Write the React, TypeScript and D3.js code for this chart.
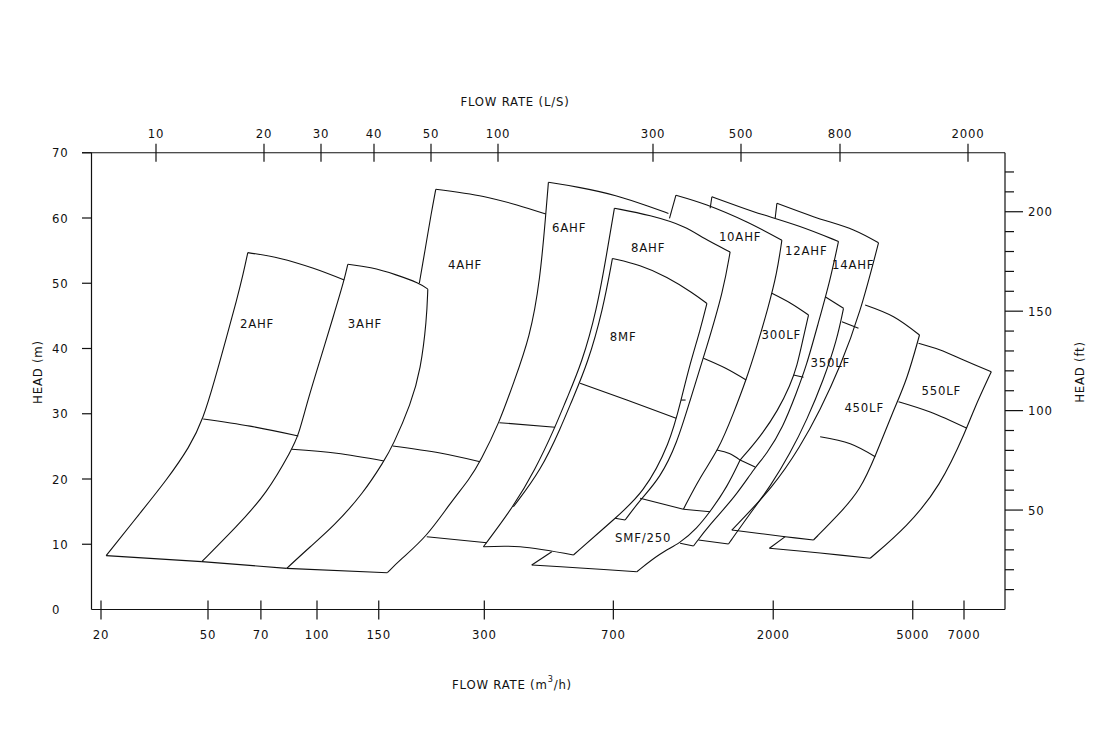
import React from 'react';
import * as d3 from 'd3';

type Pt = [number, number]; // [flow m3/h, head m]

// ---------- axes ----------
const bottomTicks = [20, 50, 70, 100, 150, 300, 700, 2000, 5000, 7000];
const topTicks = [10, 20, 30, 40, 50, 100, 300, 500, 800, 2000];
const leftTicks = [10, 20, 30, 40, 50, 60, 70];
const leftLabels = [0, 10, 20, 30, 40, 50, 60, 70];
const rightMajor = [50, 100, 150, 200];
const rightMinor = d3.range(10, 230, 10);

// ---------- pump regions (edges as [Q m3/h, H m]) ----------
const AHF2: Pt[][] = [
  [[20.9, 8.25], [27.9, 14.74], [35.1, 19.85], [42.8, 24.95], [48.0, 29.2], [52.2, 35.2], [56.3, 41.8], [60.0, 47.4], [62.6, 51.5], [64.4, 54.7]],
  [[64.4, 54.7], [79.1, 53.8], [97.7, 52.3], [119.6, 50.5]],
  [[20.9, 8.25], [47.4, 7.33]],
  [[48.0, 29.2], [65.3, 28.1], [88.8, 26.6]],
];
const AHF3: Pt[][] = [
  [[47.4, 7.33], [60.0, 12.7], [72.7, 17.8], [85.2, 24.55], [88.8, 26.6], [94.3, 32.1], [102, 38.2], [111.3, 44.9], [119.6, 50.5], [122.4, 52.9]],
  [[122.4, 52.9], [141.7, 52.5], [168.8, 51.3], [195.8, 50.0], [207, 49.1]],
  [[207, 49.1], [205.5, 44.4], [197.5, 36.7], [185.5, 31.6], [164.4, 25.06], [155.3, 22.76], [135.5, 17.8], [111.3, 12.7], [95.7, 9.62], [82.5, 6.31]],
  [[47.4, 7.33], [82.5, 6.31]],
  [[85.2, 24.55], [113.8, 23.94], [155.3, 22.76]],
];
const AHF4: Pt[][] = [
  [[218.1, 64.4], [211.5, 60.5], [203.3, 55.1], [195.8, 50.0]],
  [[218.1, 64.4], [298.2, 63.3], [371.4, 62.0], [449.3, 60.6]],
  [[158.7, 5.64], [172.5, 7.59], [205.6, 11.16], [239.6, 16.28], [273.2, 20.1], [291.8, 22.65], [331.2, 28.63], [363.1, 34.67], [405.2, 41.8], [432.7, 50.5], [449.3, 60.6], [457, 65.47]],
  [[82.5, 6.31], [158.7, 5.64]],
  [[164.4, 25.06], [224.4, 23.98], [291.8, 22.65]],
];
const AHF6: Pt[][] = [
  [[457, 65.47], [550.7, 64.8], [716.2, 63.5], [891.3, 61.7], [1005, 60.7]],
  [[205.6, 11.16], [305, 10.24]],
  [[331.2, 28.63], [477.5, 27.92]],
];
const AHF8: Pt[][] = [
  [[705, 61.5], [670.7, 54.6], [628, 45.9], [569.1, 37.73], [513.3, 32.1], [477.5, 27.92], [418.7, 21.38], [363.1, 15.75], [298.2, 9.62]],
  [[705, 61.5], [891.3, 60.46], [1134, 58.67], [1260, 56.9], [1507, 54.8]],
  [[1507, 54.8], [1443, 48.97], [1294, 40.28], [1159, 32.1], [1064, 25.5], [951.8, 20.15], [834.6, 16.78], [756.3, 13.72]],
  [[756.3, 13.72], [708.2, 13.98]],
];
const MF8: Pt[][] = [
  [[695.8, 53.8], [653.3, 45.9], [591.9, 37.73], [534, 32.1], [496.7, 27.97], [435.6, 21.38], [363.1, 15.75]],
  [[695.8, 53.8], [834.6, 52.8], [994.7, 51.0], [1184, 48.46], [1294, 46.9]],
  [[1294, 46.9], [1238, 42.8], [1159, 37.73], [1092, 32.1], [1016, 25.47], [852.9, 17.8], [708.2, 13.98], [538.6, 8.35]],
  [[298.2, 9.62], [379.4, 9.62], [538.6, 8.35]],
  [[562.8, 34.67], [764.9, 32.1], [1057, 29.3]],
  [[1092, 32.1], [1125, 32.1]],
];
const SMF250: Pt[][] = [
  [[409.7, 6.82], [562.8, 6.36], [816.7, 5.79]],
  [[409.7, 6.82], [467.3, 8.86]],
  [[816.7, 5.79], [951.8, 8.66], [1085, 10.15], [1214, 12.49], [1322, 14.99], [1478, 18.77], [1609, 22.9]],
];
const AHF10: Pt[][] = [
  [[1056, 63.5], [1012, 59.95]],
  [[1056, 63.5], [1294, 62.0], [1682, 59.4], [2117, 56.6]],
  [[2117, 56.6], [2049, 51.5], [1938, 46.4], [1796, 40.28], [1674, 35.17], [1541, 30.07], [1396, 24.44], [1238, 20.35], [1109, 15.36]],
  [[834.6, 17.04], [1109, 15.36]],
  [[1265, 38.5], [1459, 37.0], [1674, 35.17]],
];
const LF300: Pt[][] = [
  [[1982, 48.46], [2236, 46.97], [2522, 45.13]],
  [[2522, 45.13], [2440, 41.8], [2337, 37.2], [2236, 34.4], [2067, 30.57], [1836, 26.44], [1609, 22.9]],
  [[1109, 15.36], [1322, 14.99]],
  [[1382, 24.44], [1500, 23.9], [1609, 22.9]],
];
const AHF12: Pt[][] = [
  [[1337, 63.26], [1322, 61.5]],
  [[1337, 63.26], [1609, 61.7], [1836, 60.6], [2388, 58.8], [3070, 56.4]],
  [[3070, 56.4], [2908, 50.5], [2687, 43.86], [2484, 37.2], [2326, 33.13], [2136, 28.0], [1909, 23.68], [1776, 21.84], [1558, 17.24], [1313, 12.95], [1185, 9.73]],
  [[1085, 10.15], [1185, 9.73]],
  [[2285, 35.94], [2440, 35.6]],
  [[1609, 22.9], [1776, 21.84]],
];
const LF350: Pt[][] = [
  [[2813, 47.94], [3173, 46.16]],
  [[3173, 46.16], [3039, 41.3], [2782, 35.17], [2495, 29.04], [2236, 23.94], [1960, 18.8], [1719, 14.74], [1491, 10.04]],
  [[1224, 10.65], [1491, 10.04]],
];
const AHF14: Pt[][] = [
  [[2049, 62.25], [2026, 60.0]],
  [[2049, 62.25], [2605, 60.2], [3388, 58.16], [3993, 56.2]],
  [[3993, 56.2], [3540, 45.4], [3105, 37.2], [2722, 30.57], [2388, 24.95], [2003, 18.8], [1524, 12.18]],
  [[3140, 44.1], [3501, 43.1]],
];
const LF450: Pt[][] = [
  [[3658, 46.67], [4407, 44.87], [5226, 42.07]],
  [[5226, 42.07], [4813, 35.17], [4407, 30.57], [3907, 23.42], [3540, 18.31], [3105, 14.79], [2605, 10.65]],
  [[1524, 12.18], [2164, 11.16], [2605, 10.65]],
  [[2722, 26.48], [3316, 25.4], [3907, 23.42]],
];
const LF550: Pt[][] = [
  [[5192, 40.8], [5988, 39.77], [6979, 38.24], [8374, 36.45]],
  [[8374, 36.45], [7452, 30.57], [7137, 27.77], [5988, 18.82], [4812, 12.69], [3781, 7.85]],
  [[1951, 9.38], [2722, 8.66], [3781, 7.85]],
  [[1951, 9.38], [2164, 11.16]],
  [[4554, 31.85], [5607, 30.27], [7137, 27.77]],
];

const pumpEdges = [AHF2, AHF3, AHF4, AHF6, AHF8, MF8, SMF250, AHF10, LF300, AHF12, LF350, AHF14, LF450, LF550];

const labelNames = ['2AHF', '3AHF', '4AHF', '6AHF', '8AHF', '8MF', 'SMF/250', '10AHF', '300LF', '12AHF', '350LF', '14AHF', '450LF', '550LF'];
const labelQ = [68.3, 137, 264.3, 523.5, 879.7, 746.5, 851.2, 1609, 2108, 2484, 2908, 3382, 3634, 6027];
const labelH = [43.9, 43.9, 52.95, 58.47, 55.55, 41.9, 10.96, 57.1, 42.1, 54.95, 37.9, 52.8, 31.0, 33.6];

// ---------- layout ----------
const W = 1117;
const H = 737;
const plotL = 91.5;
const plotR = 1005;
const yBottom = 609.5;
const yTop = 152.75;

const x = d3.scaleLog().domain([20, 50, 100, 7000]).range([101, 208, 317, 964]);
const xTop = d3.scaleLog().domain(topTicks).range([156, 264, 321, 374, 431, 498, 653, 741, 840, 968]);
const y = d3.scaleLinear().domain([0, 70]).range([yBottom, yTop]);
const yFt = d3.scaleLinear().domain([0, 70 / 0.3048]).range([yBottom, yTop]);

const FONT = "'DejaVu Sans Condensed', 'DejaVu Sans', sans-serif";
const INK = '#111';

export default function App() {
  const smooth = d3
    .line<Pt>()
    .x((d) => x(d[0]))
    .y((d) => y(d[1]))
    .curve(d3.curveBasis);
  const through = d3
    .line<Pt>()
    .x((d) => x(d[0]))
    .y((d) => y(d[1]))
    .curve(d3.curveCatmullRom.alpha(0.5));
  const edgePath = (e: Pt[]) => (e.length >= 5 ? smooth(e) : through(e)) || '';

  const txt = { fontFamily: FONT, fontSize: 13, fill: INK, letterSpacing: 0.8 } as const;
  const midY = y(36.4);

  return (
    <svg width={W} height={H} style={{ display: 'block', position: 'absolute', left: 0, top: 0, background: '#fff' }}>
      <rect width={W} height={H} fill="#fff" />
      {/* frame */}
      <g stroke={INK} strokeWidth={1.2} fill="none">
        <line x1={82} x2={plotR} y1={yTop} y2={yTop} />
        <line x1={plotL} x2={plotL} y1={yTop} y2={yBottom} />
        <line x1={plotL} x2={plotR} y1={yBottom} y2={yBottom} />
        <line x1={plotR} x2={plotR} y1={yTop} y2={yBottom} />
        {leftTicks.map((t) => (
          <line key={'lt' + t} x1={82} x2={plotL} y1={y(t)} y2={y(t)} />
        ))}
        {bottomTicks.map((t) => (
          <line key={'bt' + t} x1={x(t)} x2={x(t)} y1={yBottom - 9} y2={yBottom + 10} />
        ))}
        {topTicks.map((t) => (
          <line key={'tt' + t} x1={xTop(t)} x2={xTop(t)} y1={yTop - 9} y2={yTop + 9} />
        ))}
        {rightMinor.map((t) => (
          <line key={'rm' + t} x1={plotR} x2={rightMajor.includes(t) ? plotR + 18 : plotR + 9} y1={yFt(t)} y2={yFt(t)} />
        ))}
      </g>
      {/* tick labels */}
      <g {...txt}>
        {leftLabels.map((t) => (
          <text key={'ll' + t} x={52} y={y(t)} dominantBaseline="central">
            {t}
          </text>
        ))}
        {bottomTicks.map((t) => (
          <text key={'bl' + t} x={x(t)} y={634} textAnchor="middle" dominantBaseline="central">
            {t}
          </text>
        ))}
        {topTicks.map((t) => (
          <text key={'tl' + t} x={xTop(t)} y={133} textAnchor="middle" dominantBaseline="central">
            {t}
          </text>
        ))}
        {rightMajor.map((t) => (
          <text key={'rl' + t} x={1028} y={yFt(t)} dominantBaseline="central">
            {t}
          </text>
        ))}
        <text x={515} y={101} textAnchor="middle" dominantBaseline="central">
          FLOW RATE (L/S)
        </text>
        <text x={512} y={684} textAnchor="middle" dominantBaseline="central">
          FLOW RATE (m<tspan dy={-5} fontSize={9}>3</tspan>
          <tspan dy={5}>/h)</tspan>
        </text>
        <text transform={`translate(37,${midY}) rotate(-90)`} textAnchor="middle" dominantBaseline="central">
          HEAD (m)
        </text>
        <text transform={`translate(1079,${midY}) rotate(-90)`} textAnchor="middle" dominantBaseline="central">
          HEAD (ft)
        </text>
      </g>
      {/* pump regions */}
      <g stroke={INK} strokeWidth={1.1} fill="none" strokeLinejoin="round">
        {pumpEdges.map((edges, i) => edges.map((e, j) => <path key={i + '-' + j} d={edgePath(e)} />))}
      </g>
      <g {...txt}>
        {labelNames.map((n, i) => (
          <text key={n} x={x(labelQ[i])} y={y(labelH[i])} textAnchor="middle" dominantBaseline="central">
            {n}
          </text>
        ))}
      </g>
    </svg>
  );
}
